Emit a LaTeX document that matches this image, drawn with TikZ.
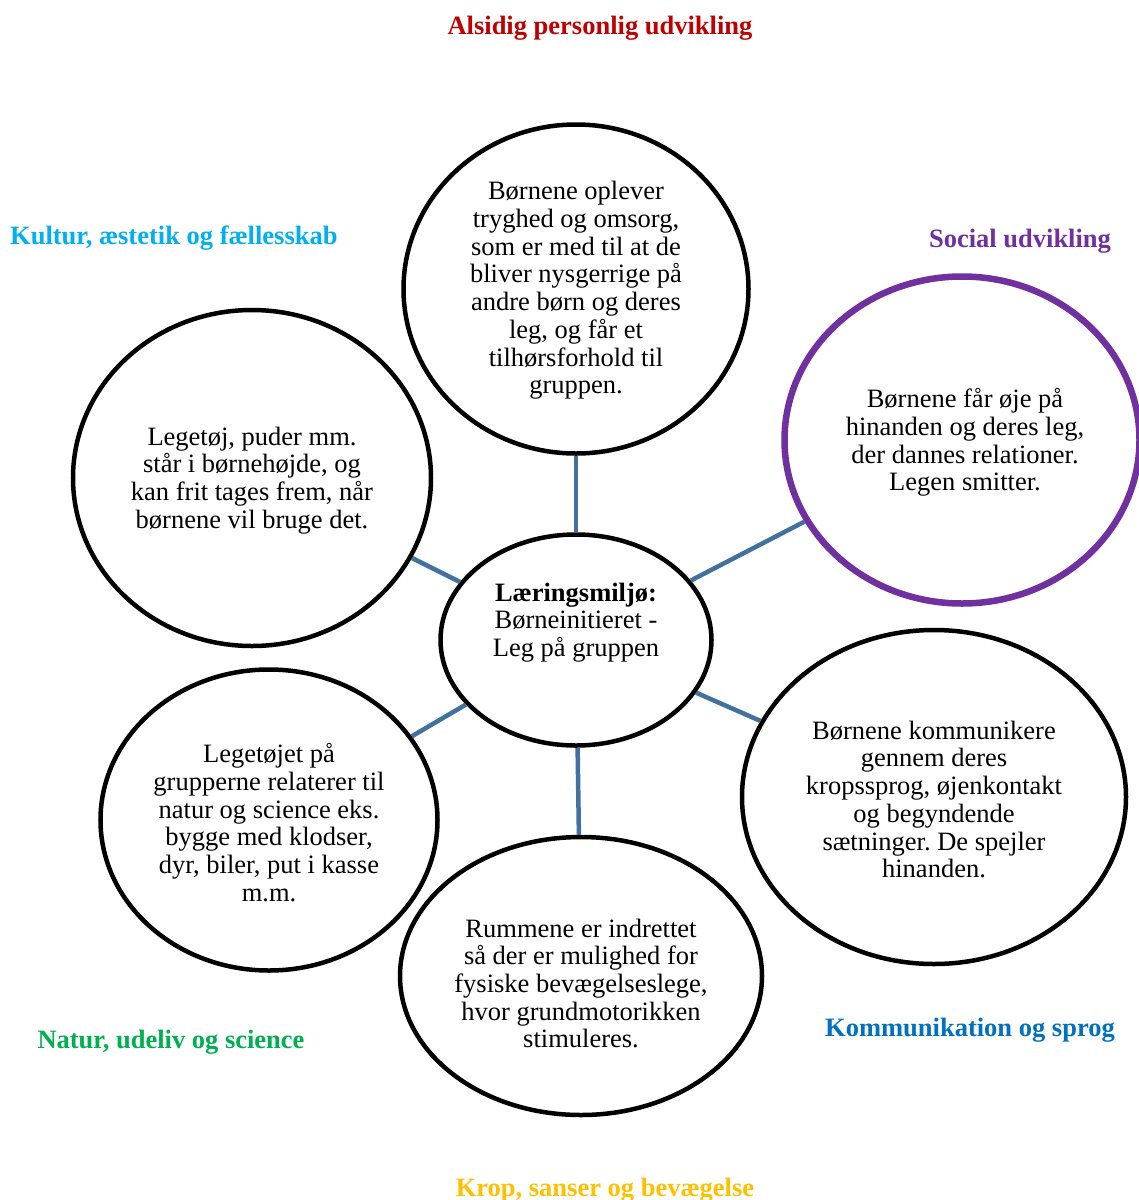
\documentclass[tikz,border=0pt]{standalone}
\usepackage{fontspec}
\setmainfont{Liberation Serif}
\usetikzlibrary{shapes.geometric}
\frenchspacing
\definecolor{cred}{HTML}{C00000}
\definecolor{ccyan}{HTML}{00B0F0}
\definecolor{cpurple}{HTML}{7030A0}
\definecolor{cgreen}{HTML}{00B050}
\definecolor{cblue}{HTML}{0070C0}
\definecolor{cgold}{HTML}{FFC000}
\definecolor{clink}{HTML}{41719C}
\tikzset{
  bubble/.style={ellipse, draw=black, line width=4.5bp, fill=white, inner sep=0pt},
  btext/.style={align=center, inner sep=0pt, yshift=-2.5bp, font=\fontsize{26.5bp}{27.7bp}\selectfont\frenchspacing},
  area/.style={inner sep=0pt, yshift=-2.5bp, font=\fontsize{26.5bp}{27.7bp}\selectfont\bfseries},
  link/.style={draw=clink, line width=4.5bp}
}
\begin{document}
\begin{tikzpicture}[x=1bp,y=-1bp]
\clip (0,0) rectangle (1139,1200);
\fill[white] (0,0) rectangle (1139,1200);

% bubbles
\node[bubble, minimum width=345bp, minimum height=329bp] (top) at (576,289) {};
\node[bubble, minimum width=358bp, minimum height=336bp] (ul) at (252,478) {};
\node[bubble, draw=cpurple, line width=6.5bp, minimum width=355bp, minimum height=327bp] (ur) at (962,440) {};
\node[bubble, minimum width=271bp, minimum height=211bp] (mid) at (576,640) {};
\node[bubble, minimum width=337bp, minimum height=301bp] (ll) at (269,820) {};
\node[bubble, minimum width=362bp, minimum height=278bp] (bot) at (581,976) {};
\node[bubble, minimum width=384bp, minimum height=334bp] (lr) at (934,797) {};

% connectors
\draw[link] (top) -- (mid);
\draw[link] (ul) -- (mid);
\draw[link] (ur) -- (mid);
\draw[link] (lr) -- (mid);
\draw[link] (ll) -- (mid);
\draw[link] (bot) -- (mid);

% bubble texts
\node[btext] (ttop) at (576,288) {Børnene oplever\\tryghed og omsorg,\\som er med til at de\\bliver nysgerrige på\\andre børn og deres\\leg, og får et\\tilhørsforhold til\\gruppen.};
\node[btext] (tul) at (252,478) {Legetøj, puder mm.\\står i børnehøjde, og\\kan frit tages frem, når\\børnene vil bruge det.};
\node[btext] (tur) at (965,440) {Børnene får øje på\\hinanden og deres leg,\\der dannes relationer.\\Legen smitter.};
\node[btext] (tmid) at (576,620) {\textbf{Læringsmiljø:}\\Børneinitieret -\\Leg på gruppen};
\node[btext] (tll) at (269,820) {Legetøjet på\\grupperne relaterer til\\natur og science eks.\\bygge med klodser,\\dyr, biler, put i kasse\\m.m.};
\node[btext] (tbot) at (581,981) {Rummene er indrettet\\så der er mulighed for\\fysiske bevægelseslege,\\hvor grundmotorikken\\stimuleres.};
\node[btext] (tlr) at (934,797) {Børnene kommunikere\\gennem deres\\kropssprog, øjenkontakt\\og begyndende\\sætninger. De spejler\\hinanden.};

% area labels
\node[area, text=cred] (a1) at (600,26) {Alsidig personlig udvikling};
\node[area, text=ccyan, anchor=west] (a2) at (10,236) {Kultur, æstetik og fællesskab};
\node[area, text=cpurple] (a3) at (1020,239) {Social udvikling};
\node[area, text=cgreen] (a4) at (171,1040) {Natur, udeliv og science};
\node[area, text=cblue] (a5) at (970,1028) {Kommunikation og sprog};
\node[area, text=cgold] (a6) at (605,1188) {Krop, sanser og bevægelse};
\end{tikzpicture}
\end{document}
